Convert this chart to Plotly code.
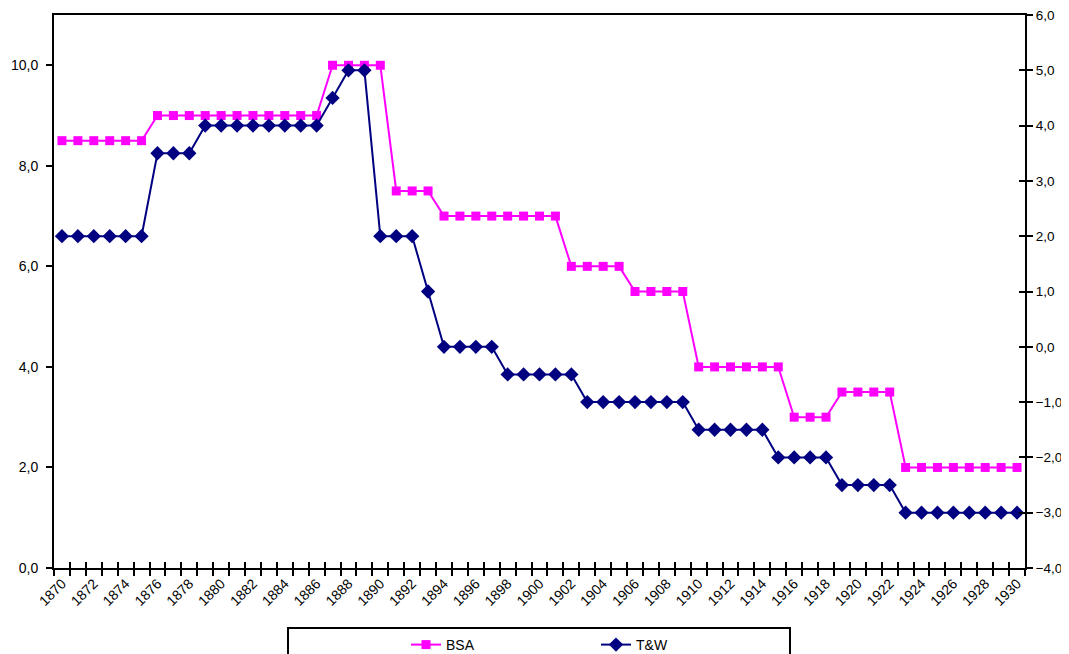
import plotly.graph_objects as go

years = list(range(1870, 1931))
bsa = ([8.5] * 6 + [9.0] * 11 + [10.0] * 4 + [7.5] * 3 + [7.0] * 8 + [6.0] * 4
       + [5.5] * 4 + [4.0] * 6 + [3.0] * 3 + [3.5] * 4 + [2.0] * 8)
tw = ([2.0] * 6 + [3.5] * 3 + [4.0] * 8 + [4.5] + [5.0] * 2 + [2.0] * 3 + [1.0]
      + [0.0] * 4 + [-0.5] * 5 + [-1.0] * 7 + [-1.5] * 5 + [-2.0] * 4 + [-2.5] * 4
      + [-3.0] * 8)
label_years = years[::2]
label_text = [str(y) for y in label_years]
boundaries = [y - 0.5 for y in years] + [years[-1] + 0.5]
left_ticks = [0, 2, 4, 6, 8, 10]
right_ticks = list(range(-4, 7))

FONT = "Liberation Sans, Arial, sans-serif"
MAG = "#FF00FF"
NAVY = "#000080"

# the page body has an 8px margin; work in page pixels and shift
OFF = 8
W, H = 1069 - OFF, 654 - OFF
PL, PR, PT, PB = 54, 1025, 15, 568          # plot area in page pixels
L, T = PL - OFF, PT - OFF
R, B = W - (PR - OFF), H - (PB - OFF)
pw, ph = PR - PL, PB - PT


def px_x(p):
    return (p - PL) / pw


def px_y(p):
    return (PB - p) / ph


fig = go.Figure()
fig.add_trace(go.Scatter(
    x=years, y=bsa, name="BSA", mode="lines+markers",
    line=dict(color=MAG, width=2),
    marker=dict(symbol="square", size=9, color=MAG),
    yaxis="y", xaxis="x"))
fig.add_trace(go.Scatter(
    x=years, y=tw, name="T&W", mode="lines+markers",
    line=dict(color=NAVY, width=2),
    marker=dict(symbol="diamond", size=11, color=NAVY),
    yaxis="y2", xaxis="x"))
# invisible helper trace for inward tick overlay axes
fig.add_trace(go.Scatter(x=[years[0]], y=[tw[0]], xaxis="x3", yaxis="y3",
                         mode="markers", marker=dict(opacity=0), showlegend=False,
                         hoverinfo="skip"))

fig.update_layout(
    width=W, height=H,
    margin=dict(l=L, r=R, t=T, b=B, pad=0, autoexpand=False),
    paper_bgcolor="white", plot_bgcolor="white",
    separators=", ",
    font=dict(family=FONT, size=14, color="black"),
    xaxis=dict(
        range=[boundaries[0], boundaries[-1]], automargin=False,
        tickmode="array", tickvals=label_years, ticktext=label_text,
        ticks="", tickangle=-45, tickfont=dict(size=14),
        ticklabeloverflow="allow",
        showgrid=False, zeroline=False,
        showline=True, linecolor="black", linewidth=2, mirror=True,
        minor=dict(tickmode="array", tickvals=boundaries, ticks="outside",
                   ticklen=6, tickwidth=2, tickcolor="black", showgrid=False),
    ),
    xaxis3=dict(
        overlaying="x", anchor="y", side="bottom", automargin=False,
        range=[boundaries[0], boundaries[-1]],
        tickmode="array", tickvals=boundaries, ticks="inside",
        ticklen=6, tickwidth=2, tickcolor="black",
        showticklabels=False, showgrid=False, zeroline=False, showline=False,
    ),
    yaxis=dict(
        range=[0, 11], tickmode="array", tickvals=left_ticks, automargin=False,
        tickformat=".1f", ticks="outside", ticklen=6, tickwidth=2,
        tickcolor="black", showgrid=False, zeroline=False, tickfont=dict(size=14),
        ticklabeloverflow="allow", ticklabelstandoff=5,
        showline=True, linecolor="black", linewidth=2,
    ),
    yaxis2=dict(
        range=[-4, 6], tickmode="array", tickvals=right_ticks, tickformat=".1f",
        overlaying="y", side="right", anchor="x", automargin=False,
        ticks="outside", ticklen=6, tickwidth=2, tickcolor="black",
        showgrid=False, zeroline=False, tickfont=dict(size=13.5),
        ticklabeloverflow="allow", ticklabelstandoff=0,
        showline=True, linecolor="black", linewidth=2,
    ),
    yaxis3=dict(
        range=[-4, 6], tickmode="array", tickvals=right_ticks,
        overlaying="y", side="right", anchor="x", automargin=False,
        ticks="inside", ticklen=6, tickwidth=2, tickcolor="black",
        showticklabels=False, showgrid=False, zeroline=False, showline=False,
    ),
    showlegend=True,
    legend=dict(
        orientation="h", x=px_x(406), xanchor="left",
        y=px_y(629), yanchor="top",
        bgcolor="rgba(0,0,0,0)", borderwidth=0,
        font=dict(size=14), entrywidth=145, entrywidthmode="pixels",
        traceorder="normal",
    ),
    shapes=[dict(type="rect", xref="paper", yref="paper",
                 x0=px_x(288), x1=px_x(790),
                 y0=px_y(628), y1=px_y(670),
                 line=dict(color="black", width=2), fillcolor="rgba(0,0,0,0)")],
)

fig.write_html("out.html")
